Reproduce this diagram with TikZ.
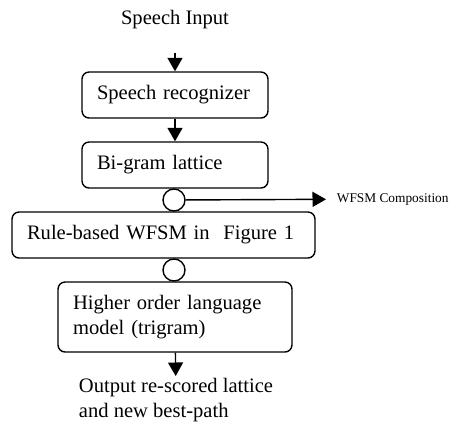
\documentclass[tikz,border=0pt]{standalone}
\usepackage{fontspec}
\setmainfont{Liberation Serif}
\usetikzlibrary{arrows.meta}

\begin{document}
\begin{tikzpicture}[x=0.02cm, y=-0.02cm, font=\fontsize{11.7}{14.2}\selectfont,
      stage/.style={draw, rounded corners=4pt, line width=0.8pt, minimum height=0.92cm, inner xsep=0.3cm, align=left},
      joint/.style={draw, circle, line width=0.8pt, minimum size=0.44cm, inner sep=0pt, fill=white},
      flow/.style={-{Triangle[length=0.27cm, width=0.3cm]}, line width=0.8pt}]
    \useasboundingbox (0,0) rectangle (459,427);
    \node (input) at (175,20) {Speech Input};
    \node[stage, text width=3.12cm] (rec) at (175,95) {Speech recognizer};
    \node[stage, text width=3.12cm] (bigram) at (175,165) {Bi-gram lattice};
    \node[stage, text width=5.46cm] (rule) at (163.5,235) {Rule-based WFSM in~ Figure 1};
    \node[stage, text width=4.08cm, minimum height=1.4cm] (trigram) at (175,317) {Higher order language\\ model (trigram)};
    \node[joint] (c1) at (174,200) {};
    \node[joint] (c2) at (174,270) {};
    \node[anchor=west, font=\fontsize{7.6}{9}\selectfont, inner xsep=6pt] (comp) at (326,199) {WFSM Composition};
    \node[anchor=north, align=left, inner sep=1pt] (out) at (176,376) {Output re-scored lattice\\ and new best-path};

    \draw[flow, shorten <=0.34cm] (input) -- (rec);
    \draw[flow] (rec) -- (bigram);
    \draw[flow] (c1) -- (comp);
    \draw[flow] (trigram) -- (out);
  \end{tikzpicture}
\end{document}
